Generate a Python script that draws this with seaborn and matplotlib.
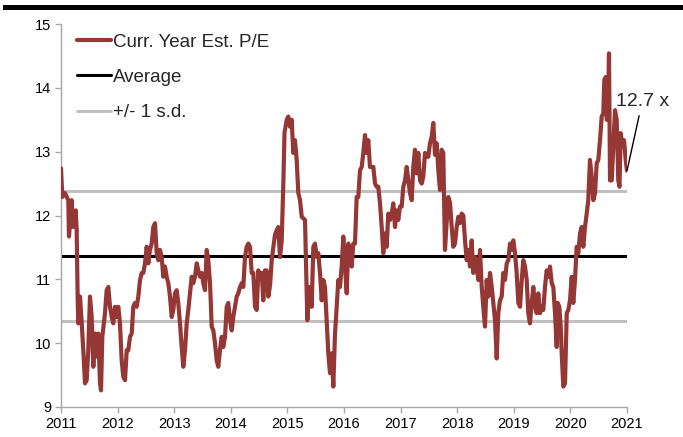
import matplotlib
matplotlib.use("Agg")
import matplotlib.pyplot as plt
from matplotlib.patches import Rectangle
import seaborn as sns
import pandas as pd

# ---- data ----
years = [
    2011.000, 2011.023, 2011.071, 2011.129, 2011.141, 2011.189, 2011.212, 2011.260, 2011.277, 2011.295,
    2011.306, 2011.336, 2011.366, 2011.394, 2011.424, 2011.454, 2011.482, 2011.512, 2011.542, 2011.571,
    2011.601, 2011.631, 2011.659, 2011.689, 2011.707, 2011.730, 2011.777, 2011.807, 2011.836, 2011.866,
    2011.896, 2011.924, 2011.954, 2011.984, 2012.012, 2012.042, 2012.072, 2012.101, 2012.131, 2012.161,
    2012.189, 2012.219, 2012.249, 2012.277, 2012.307, 2012.337, 2012.366, 2012.396, 2012.426, 2012.454,
    2012.484, 2012.514, 2012.542, 2012.572, 2012.602, 2012.631, 2012.661, 2012.691, 2012.719, 2012.749,
    2012.779, 2012.807, 2012.837, 2012.867, 2012.896, 2012.926, 2012.956, 2012.984, 2013.014, 2013.044,
    2013.072, 2013.102, 2013.132, 2013.161, 2013.191, 2013.221, 2013.249, 2013.279, 2013.309, 2013.337,
    2013.367, 2013.398, 2013.426, 2013.456, 2013.486, 2013.514, 2013.544, 2013.574, 2013.602, 2013.633,
    2013.663, 2013.691, 2013.721, 2013.751, 2013.779, 2013.809, 2013.839, 2013.867, 2013.898, 2013.928,
    2013.956, 2013.986, 2014.016, 2014.044, 2014.074, 2014.104, 2014.132, 2014.163, 2014.193, 2014.221,
    2014.251, 2014.281, 2014.309, 2014.339, 2014.369, 2014.398, 2014.428, 2014.458, 2014.486, 2014.516,
    2014.546, 2014.574, 2014.604, 2014.634, 2014.663, 2014.693, 2014.723, 2014.751, 2014.781, 2014.811,
    2014.839, 2014.869, 2014.899, 2014.928, 2014.949, 2014.988, 2015.016, 2015.046, 2015.076, 2015.104,
    2015.134, 2015.164, 2015.193, 2015.223, 2015.253, 2015.311, 2015.352, 2015.387, 2015.429, 2015.458,
    2015.488, 2015.518, 2015.546, 2015.576, 2015.606, 2015.634, 2015.664, 2015.694, 2015.723, 2015.753,
    2015.783, 2015.811, 2015.841, 2015.871, 2015.899, 2015.929, 2015.959, 2015.988, 2016.018, 2016.048,
    2016.076, 2016.106, 2016.136, 2016.164, 2016.194, 2016.224, 2016.253, 2016.283, 2016.313, 2016.341,
    2016.371, 2016.401, 2016.429, 2016.459, 2016.489, 2016.518, 2016.548, 2016.578, 2016.606, 2016.636,
    2016.666, 2016.694, 2016.724, 2016.754, 2016.783, 2016.813, 2016.843, 2016.871, 2016.901, 2016.931,
    2016.959, 2016.989, 2017.019, 2017.048, 2017.078, 2017.108, 2017.136, 2017.166, 2017.196, 2017.224,
    2017.254, 2017.284, 2017.313, 2017.343, 2017.373, 2017.401, 2017.431, 2017.461, 2017.489, 2017.519,
    2017.549, 2017.578, 2017.608, 2017.638, 2017.666, 2017.696, 2017.726, 2017.754, 2017.784, 2017.814,
    2017.843, 2017.873, 2017.903, 2017.931, 2017.961, 2017.991, 2018.019, 2018.049, 2018.079, 2018.108,
    2018.138, 2018.168, 2018.196, 2018.226, 2018.256, 2018.284, 2018.314, 2018.344, 2018.373, 2018.403,
    2018.433, 2018.461, 2018.491, 2018.521, 2018.549, 2018.580, 2018.610, 2018.638, 2018.668, 2018.698,
    2018.726, 2018.756, 2018.786, 2018.814, 2018.845, 2018.875, 2018.903, 2018.933, 2018.963, 2018.991,
    2019.021, 2019.051, 2019.080, 2019.110, 2019.140, 2019.168, 2019.198, 2019.228, 2019.256, 2019.286,
    2019.316, 2019.345, 2019.375, 2019.405, 2019.433, 2019.463, 2019.493, 2019.521, 2019.551, 2019.581,
    2019.610, 2019.640, 2019.670, 2019.698, 2019.728, 2019.758, 2019.776, 2019.804, 2019.829, 2019.846,
    2019.875, 2019.905, 2019.935, 2019.963, 2019.993, 2020.023, 2020.051, 2020.081, 2020.111, 2020.140,
    2020.170, 2020.200, 2020.228, 2020.258, 2020.288, 2020.316, 2020.346, 2020.376, 2020.405, 2020.435,
    2020.465, 2020.493, 2020.523, 2020.553, 2020.581, 2020.599, 2020.624, 2020.641, 2020.659, 2020.682,
    2020.700, 2020.730, 2020.758, 2020.788, 2020.818, 2020.846, 2020.867, 2020.889, 2020.917, 2020.947,
    2020.977, 2021.000,
]
pe_values = [
    12.74, 12.29, 12.35, 12.24, 11.67, 12.24, 11.82, 12.08, 11.77, 10.67,
    10.31, 10.73, 10.31, 9.89, 9.37, 9.42, 9.89, 10.73, 10.41, 9.63,
    10.15, 9.79, 10.15, 9.37, 9.26, 10.10, 10.47, 10.83, 10.88, 10.57,
    10.41, 10.31, 10.57, 10.41, 10.57, 10.31, 9.73, 9.47, 9.42, 9.89,
    9.89, 10.10, 10.15, 10.57, 10.63, 10.57, 10.73, 10.99, 11.10, 11.10,
    11.25, 11.51, 11.25, 11.46, 11.56, 11.82, 11.88, 11.41, 11.30, 11.46,
    11.35, 11.04, 11.20, 11.04, 10.94, 10.73, 10.41, 10.52, 10.78, 10.83,
    10.63, 10.31, 9.94, 9.63, 9.89, 10.31, 10.52, 10.78, 11.04, 10.94,
    11.04, 11.25, 11.14, 11.04, 11.10, 10.94, 10.83, 11.46, 11.30, 10.94,
    10.26, 10.20, 10.00, 9.73, 9.63, 9.89, 10.10, 9.94, 10.10, 10.57,
    10.63, 10.36, 10.20, 10.41, 10.57, 10.73, 10.78, 10.88, 10.94, 10.88,
    11.35, 11.51, 11.56, 11.51, 11.10, 11.10, 10.57, 10.52, 11.14, 11.04,
    11.10, 10.67, 11.14, 11.14, 10.73, 10.90, 11.30, 11.50, 11.70, 11.77,
    11.82, 11.35, 11.60, 12.50, 13.30, 13.50, 13.55, 13.39, 13.50, 12.98,
    13.18, 12.87, 12.35, 12.24, 11.98, 11.93, 10.36, 10.88, 10.57, 11.51,
    11.56, 11.35, 11.41, 11.10, 10.67, 10.99, 10.88, 10.36, 9.84, 9.53,
    9.84, 9.32, 10.15, 10.57, 10.99, 10.88, 11.20, 11.67, 11.20, 10.78,
    11.56, 11.41, 11.20, 11.56, 11.56, 12.29, 12.29, 12.71, 12.76, 12.98,
    13.26, 12.98, 13.18, 12.76, 12.76, 12.76, 12.50, 12.45, 12.45, 12.19,
    11.82, 11.41, 11.72, 11.51, 12.03, 11.93, 12.03, 12.19, 11.82, 12.08,
    11.93, 12.14, 12.14, 12.45, 12.55, 12.76, 12.55, 12.35, 12.24, 12.76,
    13.03, 12.66, 12.98, 12.55, 12.50, 12.61, 12.98, 12.92, 12.92, 13.13,
    13.23, 13.45, 12.95, 13.13, 12.71, 12.40, 13.03, 12.98, 11.46, 11.90,
    12.29, 12.20, 11.82, 11.51, 11.56, 11.82, 11.98, 11.88, 12.03, 12.00,
    11.61, 11.30, 11.46, 11.20, 11.61, 11.10, 11.35, 11.20, 10.99, 11.46,
    10.88, 10.57, 10.26, 10.99, 10.73, 11.10, 10.88, 10.63, 10.36, 9.76,
    10.47, 10.67, 10.73, 11.10, 10.99, 11.25, 11.30, 11.56, 11.46, 11.61,
    11.41, 11.10, 10.63, 10.57, 10.99, 11.30, 11.20, 10.99, 10.47, 10.31,
    10.63, 10.88, 10.57, 10.47, 10.78, 10.47, 10.57, 10.52, 10.88, 11.14,
    11.04, 11.20, 10.94, 10.88, 10.47, 9.94, 10.63, 10.57, 10.26, 9.84,
    9.32, 9.37, 10.47, 10.52, 10.67, 11.04, 10.63, 10.99, 11.51, 11.41,
    11.72, 11.82, 11.51, 11.82, 12.03, 12.24, 12.87, 12.61, 12.24, 12.35,
    12.82, 12.87, 13.18, 13.55, 13.60, 14.12, 14.17, 13.50, 13.50, 14.54,
    12.55, 12.55, 13.08, 13.65, 13.50, 12.55, 12.45, 13.29, 13.10, 13.18,
    12.87, 12.70,
]
average_pe = 11.37
sd_pe = 1.02
latest_label = "12.7 x"
series_label = "Curr. Year Est. P/E"
avg_label = "Average"
sd_label = "+/- 1 s.d."
x_ticks = list(range(2011, 2022))
y_ticks = list(range(9, 16))

df = pd.DataFrame({"year": years, "pe": pe_values})

# ---- style ----
sns.set_style("white")
plt.rcParams["font.family"] = ["Liberation Sans", "DejaVu Sans"]

fig = plt.figure(figsize=(6.83, 4.37), dpi=100)
ax = fig.add_axes([61 / 683, 1 - 407 / 437, (627 - 61) / 683, (407 - 24) / 437])

red = "#953735"
sd_color = "#BFBFBF"

ax.axhline(average_pe + sd_pe, color=sd_color, lw=2.1, zorder=1)
ax.axhline(average_pe - sd_pe, color=sd_color, lw=2.1, zorder=1, label=sd_label)
ax.axhline(average_pe, color="black", lw=2.2, zorder=2, label=avg_label)
sns.lineplot(data=df, x="year", y="pe", ax=ax, color=red, lw=3.0,
             label=series_label, zorder=3)

ax.set_xlim(x_ticks[0], x_ticks[-1])
ax.set_ylim(y_ticks[0], y_ticks[-1])
ax.set_xticks(x_ticks)
ax.set_xticklabels([str(t) for t in x_ticks])
ax.set_yticks(y_ticks)
ax.set_xlabel("")
ax.set_ylabel("")

for side in ["top", "right"]:
    ax.spines[side].set_visible(False)
for side in ["left", "bottom"]:
    ax.spines[side].set_color("#A6A6A6")
    ax.spines[side].set_linewidth(1.0)
ax.tick_params(axis="both", direction="out", length=4, width=1.0,
               color="#A6A6A6", labelsize=10.5, labelcolor="black", pad=3,
               left=True, bottom=True)

# legend
handles, labels = ax.get_legend_handles_labels()
order = [labels.index(series_label), labels.index(avg_label), labels.index(sd_label)]
leg = ax.legend([handles[i] for i in order], [labels[i] for i in order],
                loc="upper left", bbox_to_anchor=(0.0, 1.017), frameon=False,
                fontsize=13.5, handlelength=1.8, handletextpad=0.12,
                labelspacing=0.97, borderpad=0.35)

# annotation for latest value
ax.annotate(latest_label, xy=(years[-1], pe_values[-1]), xytext=(2021.27, 13.79),
            textcoords="data", ha="center", va="center", fontsize=14,
            annotation_clip=False,
            arrowprops=dict(arrowstyle="-", color="black", lw=1.0,
                            shrinkA=2, shrinkB=0))

# thick black bar on top of the figure
fig.add_artist(Rectangle((3 / 683, 1 - 10 / 437), 1.0, 5 / 437,
                         transform=fig.transFigure, color="black", lw=0))

fig.savefig("out.png", dpi=100)
